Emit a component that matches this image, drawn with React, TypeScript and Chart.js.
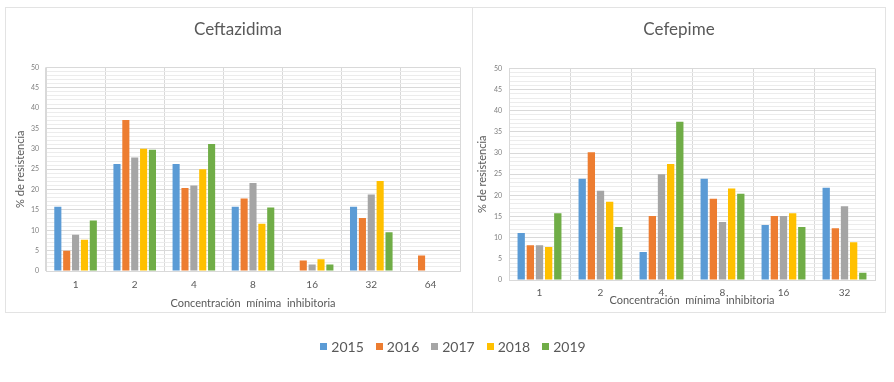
import React, { useEffect, useRef } from "react";
import { Chart, registerables } from "chart.js";

Chart.register(...registerables);

const years = ["2015", "2016", "2017", "2018", "2019"];
const colors = ["#5B9BD5", "#ED7D31", "#A5A5A5", "#FFC000", "#70AD47"];

const ceftazidimaLabels = ["1", "2", "4", "8", "16", "32", "64"];
const ceftazidima2015 = [15.8, 26.3, 26.3, 15.8, 0, 15.8, 0];
const ceftazidima2016 = [5.0, 37.1, 20.4, 17.8, 2.6, 13.0, 3.8];
const ceftazidima2017 = [8.9, 27.9, 21.0, 21.6, 1.6, 18.8, 0];
const ceftazidima2018 = [7.7, 30.0, 25.0, 11.6, 2.9, 22.1, 0];
const ceftazidima2019 = [12.4, 29.8, 31.2, 15.6, 1.6, 9.5, 0];

const cefepimeLabels = ["1", "2", "4", "8", "16", "32"];
const cefepime2015 = [11.1, 23.9, 6.6, 23.9, 13.0, 21.8];
const cefepime2016 = [8.2, 30.2, 15.1, 19.2, 15.1, 12.2];
const cefepime2017 = [8.2, 21.1, 25.0, 13.7, 15.1, 17.4];
const cefepime2018 = [7.8, 18.5, 27.4, 21.6, 15.8, 8.9];
const cefepime2019 = [15.8, 12.5, 37.4, 20.4, 12.5, 1.7];

const yTitle = "% de resistencia";
const xTitle = "Concentración  mínima  inhibitoria";

const FONT = "Lato, 'Open Sans', sans-serif";
const TEXT = "#595959";

type Cfg = {
  title: string;
  labels: string[];
  series: number[][];
  width: number;
  height: number;
  yWidth: number;
  yTitlePad: number;
  xHeight: number;
  xTickPad: number;
  xTitlePadBottom: number;
  titlePadTop: number;
  titlePadBottom: number;
  padBottom: number;
};

function BarChart(props: Cfg) {
  const ref = useRef<HTMLCanvasElement | null>(null);
  useEffect(() => {
    if (!ref.current) return;
    const chart = new Chart(ref.current, {
      type: "bar",
      data: {
        labels: props.labels,
        datasets: years.map((y, i) => ({
          label: y,
          data: props.series[i],
          backgroundColor: colors[i],
          barPercentage: 0.8,
          categoryPercentage: 0.75,
        })),
      },
      options: {
        animation: false,
        responsive: false,
        maintainAspectRatio: false,
        layout: { padding: { left: 11, right: 11, top: 0, bottom: props.padBottom } },
        plugins: {
          legend: { display: false },
          tooltip: { enabled: false },
          title: {
            display: true,
            text: props.title,
            color: TEXT,
            font: { family: FONT, size: 17, weight: "normal" },
            padding: { top: props.titlePadTop, bottom: props.titlePadBottom },
          },
        },
        scales: {
          x: {
            grid: { color: "#d9d9d9", drawTicks: false, offset: true },
            border: { color: "#d9d9d9" },
            ticks: { color: TEXT, font: { family: FONT, size: 10 }, padding: props.xTickPad },
            title: {
              display: true,
              text: xTitle,
              color: TEXT,
              font: { family: FONT, size: 11 },
              padding: { top: 0, bottom: props.xTitlePadBottom },
            },
            afterFit: (s: any) => {
              s.height = props.xHeight;
            },
          },
          y: {
            min: 0,
            max: 50,
            ticks: {
              stepSize: 1,
              autoSkip: false,
              color: "#7f7f7f",
              font: { family: FONT, size: 7 },
              padding: 7,
              callback: (v: any) => (Number(v) % 5 === 0 ? String(v) : ""),
            },
            grid: {
              drawTicks: false,
              color: (ctx: any) =>
                ctx.tick && ctx.tick.value % 5 === 0 ? "#d9d9d9" : "#ececec",
            },
            border: { color: "#d9d9d9" },
            title: {
              display: true,
              text: yTitle,
              color: TEXT,
              font: { family: FONT, size: 11 },
              padding: { top: props.yTitlePad, bottom: 0 },
            },
            afterFit: (s: any) => {
              s.width = props.yWidth;
            },
          },
        },
      } as any,
    });
    return () => chart.destroy();
  }, []);
  return <canvas ref={ref} width={props.width} height={props.height} style={{ display: "block" }} />;
}

export default function App() {
  const boxStyle = (left: number, width: number, rightBorder: boolean): React.CSSProperties => ({
    position: "absolute",
    left,
    top: 7,
    width,
    height: 306,
    boxSizing: "border-box",
    border: "1px solid #e3e3e3",
    borderRight: rightBorder ? "1px solid #e3e3e3" : "none",
  });
  return (
    <div
      style={{
        position: "fixed",
        left: 0,
        top: 0,
        width: 894,
        height: 382,
        background: "#fff",
        fontFamily: FONT,
      }}
    >
      <div style={boxStyle(5, 467, false)}>
        <div style={{ position: "absolute", left: -1, top: -1 }}>
          <BarChart
            title="Ceftazidima"
            labels={ceftazidimaLabels}
            series={[ceftazidima2015, ceftazidima2016, ceftazidima2017, ceftazidima2018, ceftazidima2019]}
            width={466}
            height={306}
            yWidth={30}
            yTitlePad={-2}
            xHeight={42}
            xTickPad={8}
            xTitlePadBottom={3}
            titlePadTop={12}
            titlePadBottom={28}
            padBottom={0}
          />
        </div>
      </div>
      <div style={boxStyle(472, 414, true)}>
        <div style={{ position: "absolute", left: -1, top: -1 }}>
          <BarChart
            title="Cefepime"
            labels={cefepimeLabels}
            series={[cefepime2015, cefepime2016, cefepime2017, cefepime2018, cefepime2019]}
            width={414}
            height={306}
            yWidth={26}
            yTitlePad={-7}
            xHeight={30}
            xTickPad={7}
            xTitlePadBottom={3}
            titlePadTop={12}
            titlePadBottom={29}
            padBottom={3}
          />
        </div>
      </div>
      <div
        style={{
          position: "absolute",
          left: 0,
          top: 338,
          width: 906,
          display: "flex",
          justifyContent: "center",
          alignItems: "center",
          color: TEXT,
          fontSize: 14,
        }}
      >
        {years.map((y, i) => (
          <div key={y} style={{ display: "flex", alignItems: "center", marginRight: i < years.length - 1 ? 12 : 0 }}>
            <span style={{ display: "inline-block", width: 7, height: 7, background: colors[i], marginRight: 4 }} />
            <span>{y}</span>
          </div>
        ))}
      </div>
    </div>
  );
}
